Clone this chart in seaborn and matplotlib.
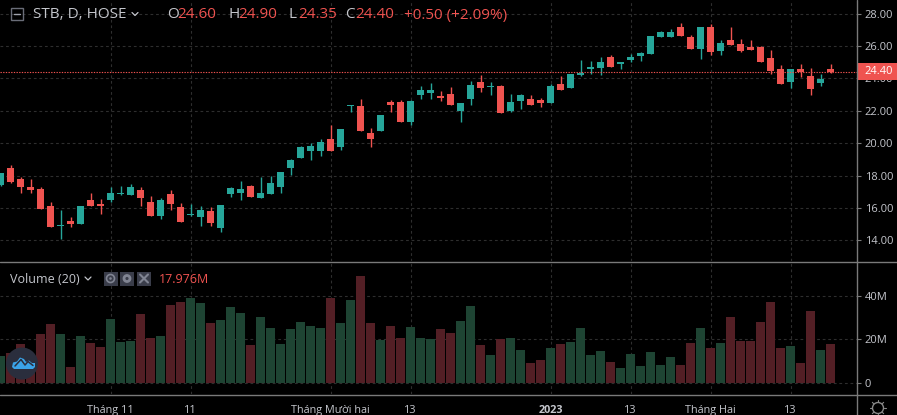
import matplotlib
matplotlib.use("Agg")
import matplotlib.pyplot as plt
from matplotlib.patches import Circle, Rectangle, Polygon
import numpy as np
import pandas as pd
import seaborn as sns

# gia doc tu hinh, tung phien
opens = [17.39, 18.49, 17.76, 17.27, 17.14, 16.10, 14.88, 15.18, 15.00, 16.47,
         16.22, 16.47, 16.84, 16.78, 17.08, 16.35, 15.49, 16.84, 16.04, 15.55,
         15.43, 15.80, 14.76, 16.84, 16.90, 17.33, 16.59, 16.84, 17.28, 18.45,
         19.07, 19.50, 19.50, 20.25, 19.75, 22.29, 22.29, 20.62, 20.74, 22.54,
         22.54, 21.30, 22.97, 23.09, 22.91, 23.03, 21.98, 22.72, 23.77, 23.46,
         23.53, 21.98, 22.60, 22.72, 22.66, 22.47, 23.65, 23.39, 24.19, 24.57,
         24.63, 25.31, 24.88, 25.13, 25.37, 25.50, 26.55, 26.55, 27.18, 26.55,
         25.81, 27.18, 25.69, 26.37, 26.12, 25.93, 25.93, 25.25, 24.57, 23.76,
         24.57, 24.13, 23.70, 24.60]
highs = [18.18, 18.67, 17.88, 17.76, 17.27, 16.35, 15.86, 15.43, 16.10, 16.90,
         16.53, 17.27, 17.33, 17.45, 17.27, 16.71, 16.59, 17.08, 16.29, 16.22,
         16.10, 16.04, 16.16, 17.27, 17.69, 17.39, 17.88, 17.94, 18.18, 19.01,
         19.81, 20.00, 20.25, 21.11, 20.87, 22.35, 22.72, 20.93, 21.73, 22.66,
         22.66, 22.66, 23.53, 23.71, 23.22, 23.46, 22.47, 23.84, 24.21, 23.77,
         23.59, 23.03, 23.03, 22.97, 22.78, 23.65, 24.14, 24.27, 25.13, 25.06,
         25.31, 25.44, 25.00, 25.50, 25.62, 26.62, 26.93, 27.05, 27.42, 26.68,
         27.18, 27.36, 26.37, 27.18, 26.43, 26.37, 26.00, 25.75, 24.82, 24.57,
         24.88, 24.63, 24.26, 24.90]
lows = [17.33, 17.51, 16.90, 16.90, 15.92, 14.82, 14.08, 14.82, 15.00, 16.10,
        15.61, 16.35, 16.78, 16.78, 16.10, 15.49, 15.31, 15.86, 15.12, 15.49,
        14.88, 14.88, 14.51, 16.65, 16.47, 16.65, 16.59, 16.84, 16.90, 18.02,
        19.07, 18.95, 19.20, 19.50, 19.57, 21.92, 20.74, 19.75, 20.74, 21.92,
        21.30, 21.11, 22.72, 22.72, 22.60, 22.35, 21.30, 22.35, 23.15, 22.97,
        21.86, 21.92, 22.10, 22.35, 22.23, 22.47, 23.28, 23.39, 24.13, 24.26,
        24.19, 24.69, 24.57, 25.00, 25.06, 25.50, 26.55, 26.55, 26.62, 25.81,
        25.19, 25.44, 25.44, 26.06, 25.62, 25.75, 25.00, 24.26, 23.64, 23.39,
        24.07, 22.95, 23.51, 24.35]
closes = [18.18, 17.63, 17.27, 17.08, 15.92, 14.82, 14.94, 15.00, 16.10, 16.10,
          16.10, 16.90, 16.90, 17.27, 16.59, 15.49, 16.47, 16.22, 15.12, 15.61,
          15.86, 15.06, 16.16, 17.20, 17.14, 16.65, 16.90, 17.51, 18.20, 18.95,
          19.75, 19.81, 20.06, 19.50, 20.87, 22.35, 20.74, 20.25, 21.73, 22.35,
          21.30, 22.60, 23.28, 23.28, 22.78, 22.35, 22.47, 23.59, 23.40, 23.53,
          21.86, 22.54, 22.97, 22.35, 22.47, 23.53, 23.28, 24.26, 24.32, 24.69,
          25.00, 24.69, 25.00, 25.31, 25.56, 26.62, 26.87, 26.87, 26.62, 25.81,
          27.18, 25.62, 26.18, 26.06, 25.69, 25.75, 25.00, 24.44, 23.64, 24.57,
          24.38, 23.33, 23.95, 24.40]
volumes = [12.4, 13.8, 17.9, 13.0, 22.6, 27.2, 22.6, 7.3, 21.6, 18.4,
           16.5, 29.5, 18.9, 19.3, 31.8, 20.7, 21.6, 36.0, 37.4, 39.3,
           36.9, 27.7, 29.1, 35.1, 32.3, 17.5, 30.4, 25.3, 17.9, 24.9,
           28.1, 26.3, 25.3, 39.3, 27.7, 38.3, 49.5, 27.7, 19.8, 26.3,
           20.7, 25.8, 20.7, 20.2, 24.9, 23.0, 28.6, 35.5, 17.5, 12.8,
           20.2, 20.7, 15.1, 9.1, 10.5, 16.1, 17.9, 18.9, 25.3, 12.8,
           14.7, 9.6, 6.8, 13.3, 7.7, 14.2, 8.2, 11.9, 8.2, 18.4,
           25.3, 16.1, 18.4, 30.4, 19.3, 19.3, 28.1, 37.4, 16.1, 17.0,
           9.1, 33.2, 15.1, 17.976]

price_ticks = [14, 16, 18, 20, 22, 24, 26, 28]
volume_ticks = [0, 20, 40]
date_ticks = [11, 19, 33, 41, 55, 63, 71, 79]
date_labels = ["Tháng 11", "11", "Tháng Mười hai", "13", "2023", "13", "Tháng Hai", "13"]
last_price = 24.40

BG = "#000000"
UP = "#26a69a"
DOWN = "#ef5350"
UP_VOL = "#1e4433"
DOWN_VOL = "#531f25"
GRID = "#2e2e2e"
AXIS = "#7a7a7a"
TEXT = "#c4c6cc"

sns.set_theme(style="dark")
plt.rcParams["font.family"] = ["Open Sans", "DejaVu Sans"]

df = pd.DataFrame({"idx": range(len(opens)), "open": opens, "high": highs,
                   "low": lows, "close": closes, "volume": volumes})
df["rising"] = df["close"] >= df["open"]
df["body_low"] = df[["open", "close"]].min(axis=1)
df["body"] = (df["open"] - df["close"]).abs()

W, H = 897, 415
fig = plt.figure(figsize=(W / 100, H / 100), dpi=100, facecolor=BG)
ax = fig.add_axes([0, (H - 261) / H, 856.5 / W, 261 / H], facecolor=BG)
ax_vol = fig.add_axes([0, (H - 394) / H, 856.5 / W, 133 / H], facecolor=BG)

for rising, color, vol_color in [(True, UP, UP_VOL), (False, DOWN, DOWN_VOL)]:
    part = df[df["rising"] == rising]
    ax.vlines(part["idx"], part["low"], part["high"], color=color, lw=1, zorder=3)
    sns.barplot(data=part, x="idx", y="body", bottom=part["body_low"].values,
                native_scale=True, width=0.7, color=color, saturation=1,
                errorbar=None, linewidth=0, ax=ax, zorder=4)
    sns.barplot(data=part, x="idx", y="volume", native_scale=True, width=0.9,
                color=vol_color, saturation=1, errorbar=None, linewidth=0,
                ax=ax_vol, zorder=3)

xlim = (-0.05, 85.6)
ax.set_xlim(xlim)
ax.set_ylim(12.72, 28.84)
ax_vol.set_xlim(xlim)
ax_vol.set_ylim(-5.23, 56.3)

for a in (ax, ax_vol):
    a.set_xlabel("")
    a.set_ylabel("")
    a.grid(True, color=GRID, lw=0.8, ls=(0, (2.5, 2.5)))
    a.set_axisbelow(True)
    sns.despine(ax=a, left=True, bottom=True)
    a.yaxis.tick_right()
    a.set_xticks(date_ticks)

ax.set_yticks(price_ticks)
ax.set_yticklabels([f"{p:.2f}" for p in price_ticks])
ax.tick_params(axis="x", length=0, labelbottom=False)
ax.tick_params(axis="y", colors=TEXT, labelsize=8, length=3, width=0.8, color=AXIS, pad=3)
ax.axhline(last_price, color=DOWN, lw=0.8, ls=(0, (1.2, 1.2)), zorder=5)

ax_vol.set_yticks(volume_ticks)
ax_vol.set_yticklabels(["0", "20M", "40M"])
ax_vol.set_xticklabels(date_labels)
ax_vol.tick_params(axis="y", colors=TEXT, labelsize=8, length=3, width=0.8, color=AXIS, pad=3)
ax_vol.tick_params(axis="x", colors=TEXT, labelsize=7.8, length=3, width=0.8, color=AXIS, pad=5)
for lab in ax_vol.get_xticklabels():
    if lab.get_text() == "2023":
        lab.set_fontweight("bold")

# lop phu tinh theo pixel: header, icon, duong chia khung
ov = fig.add_axes([0, 0, 1, 1], facecolor="none")
ov.set_xlim(0, W)
ov.set_ylim(H, 0)
ov.axis("off")

ov.plot([0, W], [261.5, 261.5], color=AXIS, lw=1)
ov.plot([0, W], [394.5, 394.5], color=AXIS, lw=1)
ov.plot([856.5, 856.5], [0, H], color=AXIS, lw=1)

# nhan gia cuoi
ov.add_patch(Rectangle((857, 63), 40, 17, color=DOWN, lw=0))
ov.text(864.5, 71.5, "24.40", color="white", fontsize=8, va="center")

# dong tieu de
ov.add_patch(Rectangle((10.5, 8.5), 12, 12, fill=False, ec="#6a6d78", lw=1))
ov.plot([13.5, 19.5], [14.5, 14.5], color="#a0a3ad", lw=1)
ov.text(33, 15, "STB, D, HOSE", color=TEXT, fontsize=11, va="center")
ov.plot([132, 135, 138], [12.5, 15.5, 12.5], color=TEXT, lw=0.9)
for x, label, value in [(167, "O", "24.60"), (228, "H", "24.90"), (288, "L", "24.35"), (345, "C", "24.40")]:
    ov.text(x, 15, label, color=TEXT, fontsize=11, va="center")
    ov.text(x + 10.5, 15, value, color=DOWN, fontsize=11, va="center")
ov.text(404, 15, "+0.50 (+2.09%)", color=DOWN, fontsize=11, va="center")

# dong volume
ov.text(10, 279, "Volume (20)", color=TEXT, fontsize=9, va="center")
ov.plot([85, 88, 91], [277, 280, 277], color=TEXT, lw=0.9)
for x in (103.5, 120, 137):
    ov.add_patch(Rectangle((x, 271.5), 14, 14, color="#3a3d4a", lw=0))
ov.add_patch(Circle((110.5, 278.5), 4, fill=False, ec="#808492", lw=1.2))
ov.add_patch(Circle((110.5, 278.5), 1.3, color="#808492", lw=0))
ov.add_patch(Circle((127, 278.5), 3, fill=False, ec="#808492", lw=2))
ov.plot([140, 148], [274.5, 282.5], color="#808492", lw=1.5)
ov.plot([140, 148], [282.5, 274.5], color="#808492", lw=1.5)
ov.text(159, 279, "17.976M", color=DOWN, fontsize=9, va="center")

# logo va icon mat troi
ov.add_patch(Circle((22, 363.5), 16, color="#2a2e3d", lw=0))
ov.add_patch(Polygon([(12, 367), (13, 362.5), (17, 361.5), (20, 357.5), (24, 359), (26, 362),
                      (29, 360.5), (32, 363), (35, 363), (35, 367), (33, 369), (14, 369)],
                     color="#3aa3e8", lw=0))
ov.plot([15, 21, 25, 28, 33], [366, 359.5, 365, 361.5, 365.5], color="#2a2e3d", lw=1.1)
ov.add_patch(Circle((878, 408), 5.5, fill=False, ec="#8a8a8a", lw=1))
for ang in np.arange(0, 360, 45):
    t = np.deg2rad(ang)
    ov.plot([878 + 6 * np.cos(t), 878 + 8 * np.cos(t)],
            [408 + 6 * np.sin(t), 408 + 8 * np.sin(t)], color="#8a8a8a", lw=0.8)

fig.savefig("out.png", dpi=100, facecolor=BG)
